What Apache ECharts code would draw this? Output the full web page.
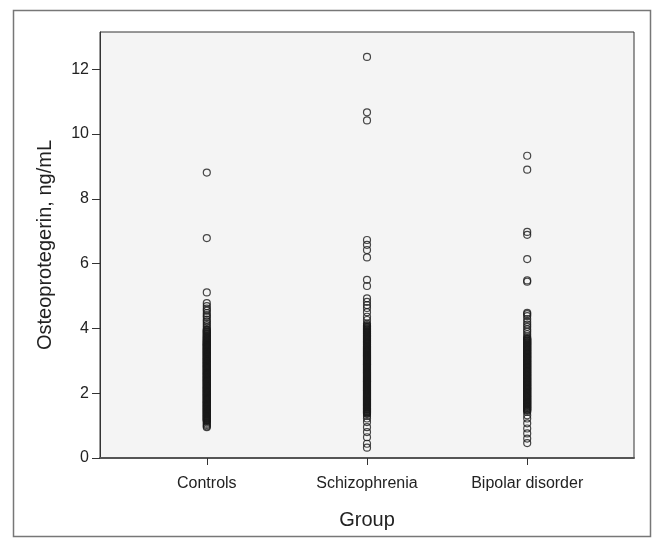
<!DOCTYPE html>
<html>
<head>
<meta charset="utf-8">
<script src="https://cdn.jsdelivr.net/npm/echarts@6/dist/echarts.min.js"></script>
<style>
  html, body { margin: 0; padding: 0; background: #fff; }
  #chart { width: 656px; height: 544px; }
</style>
</head>
<body>
<div id="chart"></div>
<script>
// groups on the x axis
var categories = ['Controls', 'Schizophrenia', 'Bipolar disorder'];
var yTicks = [0, 2, 4, 6, 8, 10, 12];

// osteoprotegerin values (ng/mL)
var controls = [
    0.95, 0.98, 1.02, 1.06, 1.1,
    1.14, 1.17, 1.19, 1.22, 1.25, 1.27, 1.3, 1.33, 1.35, 1.38, 1.41, 1.44, 1.46, 1.49, 1.52,
    1.55, 1.57, 1.6, 1.63, 1.66, 1.68, 1.71, 1.74, 1.77, 1.79, 1.82, 1.85, 1.88, 1.9, 1.93,
    1.96, 1.99, 2.01, 2.04, 2.07, 2.1, 2.12, 2.15, 2.18, 2.21, 2.23, 2.26, 2.29, 2.32, 2.34,
    2.37, 2.4, 2.43, 2.45, 2.48, 2.51, 2.54, 2.56, 2.59, 2.62, 2.65, 2.67, 2.7, 2.73, 2.76,
    2.78, 2.81, 2.84, 2.87, 2.89, 2.92, 2.95, 2.98, 3.0, 3.03, 3.06, 3.09, 3.11, 3.14, 3.17,
    3.2, 3.22, 3.25, 3.28, 3.31, 3.33, 3.36, 3.39, 3.42, 3.44, 3.47, 3.5, 3.53, 3.56, 3.6,
    3.63, 3.67, 3.71, 3.75, 3.8, 3.84, 3.89, 3.93, 3.98,
    1.155, 1.205, 1.235, 1.285, 1.315, 1.365, 1.395, 1.425, 1.475, 1.505, 1.535, 1.585,
    1.615, 1.645, 1.695, 1.725, 1.755, 1.805, 1.835, 1.865, 1.915, 1.945, 1.975, 2.025,
    2.055, 2.085, 2.135, 2.165, 2.195, 2.245, 2.275, 2.305, 2.355, 2.385, 2.415, 2.465,
    2.495, 2.525, 2.575, 2.605, 2.635, 2.685, 2.715, 2.745, 2.795, 2.825, 2.855, 2.905,
    2.935, 2.965, 3.015, 3.045, 3.075, 3.125, 3.155, 3.185, 3.235, 3.265, 3.295, 3.345,
    3.375, 3.405, 3.455, 3.485, 3.515, 3.545, 3.58, 3.615, 3.65, 3.69, 3.73, 3.77, 3.82,
    3.865, 3.91, 3.955,
    4.04, 4.1, 4.16, 4.22, 4.27, 4.35, 4.4, 4.47, 4.55, 4.61, 4.69, 4.78, 5.11, 6.79, 8.81
];
var schizophrenia = [
    0.32, 0.44, 0.64, 0.8, 0.95, 1.11, 1.22, 1.3,
    1.36, 1.4, 1.43, 1.46, 1.5, 1.53, 1.56, 1.6, 1.63, 1.66, 1.69, 1.72, 1.75, 1.78, 1.81,
    1.84, 1.87, 1.9, 1.93, 1.96, 1.99, 2.02, 2.05, 2.08, 2.11, 2.14, 2.17, 2.2, 2.23, 2.26,
    2.29, 2.32, 2.35, 2.38, 2.41, 2.44, 2.47, 2.5, 2.53, 2.56, 2.59, 2.62, 2.65, 2.68, 2.71,
    2.74, 2.77, 2.8, 2.83, 2.86, 2.89, 2.92, 2.95, 2.98, 3.01, 3.04, 3.07, 3.1, 3.13, 3.16,
    3.19, 3.22, 3.25, 3.28, 3.31, 3.34, 3.37, 3.4, 3.44, 3.48, 3.52, 3.56, 3.6, 3.64, 3.68,
    3.72, 3.76, 3.8, 3.84, 3.88, 3.92, 3.96, 4.0, 4.05, 4.1,
    1.38, 1.415, 1.445, 1.48, 1.515, 1.545, 1.58, 1.615, 1.645, 1.675, 1.705, 1.735, 1.765,
    1.795, 1.825, 1.855, 1.885, 1.915, 1.945, 1.975, 2.005, 2.035, 2.065, 2.095, 2.125,
    2.155, 2.185, 2.215, 2.245, 2.275, 2.305, 2.335, 2.365, 2.395, 2.425, 2.455, 2.485,
    2.515, 2.545, 2.575, 2.605, 2.635, 2.665, 2.695, 2.725, 2.755, 2.785, 2.815, 2.845,
    2.875, 2.905, 2.935, 2.965, 2.995, 3.025, 3.055, 3.085, 3.115, 3.145, 3.175, 3.205,
    3.235, 3.265, 3.295, 3.325, 3.355, 3.385, 3.42, 3.46, 3.5, 3.54, 3.58, 3.62, 3.66, 3.7,
    3.74, 3.78, 3.82, 3.86, 3.9, 3.94, 3.98, 4.025, 4.075,
    4.15, 4.26, 4.36, 4.5, 4.63, 4.72, 4.82, 4.93, 5.31, 5.5, 6.19, 6.42, 6.58, 6.73,
    10.42, 10.67, 12.38
];
var bipolar = [
    0.46, 0.6, 0.76, 0.91, 1.07, 1.22, 1.32, 1.42,
    1.46, 1.5, 1.54, 1.58, 1.62, 1.66, 1.7, 1.74, 1.78, 1.82, 1.86, 1.9, 1.94, 1.98, 2.02,
    2.06, 2.1, 2.14, 2.18, 2.22, 2.26, 2.3, 2.34, 2.38, 2.42, 2.46, 2.5, 2.54, 2.58, 2.62,
    2.66, 2.7, 2.74, 2.78, 2.82, 2.86, 2.9, 2.94, 2.98, 3.02, 3.06, 3.1, 3.14, 3.18, 3.22,
    3.26, 3.3, 3.34, 3.38, 3.42, 3.46, 3.5, 3.54, 3.58, 3.62, 3.66, 3.7,
    1.48, 1.52, 1.56, 1.6, 1.64, 1.68, 1.72, 1.76, 1.8, 1.84, 1.88, 1.92, 1.96, 2.0, 2.04,
    2.08, 2.12, 2.16, 2.2, 2.24, 2.28, 2.32, 2.36, 2.4, 2.44, 2.48, 2.52, 2.56, 2.6, 2.64,
    2.68, 2.72, 2.76, 2.8, 2.84, 2.88, 2.92, 2.96, 3.0, 3.04, 3.08, 3.12, 3.16, 3.2, 3.24,
    3.28, 3.32, 3.36, 3.4, 3.44, 3.48, 3.52, 3.56, 3.6, 3.64, 3.68,
    3.75, 3.82, 3.9, 3.97, 4.05, 4.12, 4.2, 4.29, 4.38, 4.44, 4.48,
    5.44, 5.48, 6.14, 6.89, 6.98, 8.9, 9.33
];
var groups = [controls, schizophrenia, bipolar];

// x position of each group on a 0..10 value axis (groups at 2, 5, 8)
function groupX(i) { return 2 + i * 3; }
var xTicks = categories.map(function(c, i){ return groupX(i); });

var series = groups.map(function(vals, i){
    return {
        type: 'scatter',
        name: categories[i],
        symbol: 'circle',
        symbolSize: 7,
        silent: true,
        itemStyle: {
            color: 'rgba(0,0,0,0)',
            borderColor: '#1a1a1a',
            borderWidth: 1.2
        },
        data: vals.map(function(v){ return [groupX(i), v]; })
    };
});

var font = 'Liberation Sans, Arial, sans-serif';

var option = {
    animation: false,
    backgroundColor: '#fff',
    graphic: [{
        type: 'rect',
        shape: { x: 13.5, y: 10.5, width: 637, height: 526 },
        style: { fill: 'none', stroke: '#777', lineWidth: 1.5 },
        silent: true
    }],
    grid: {
        left: 100, top: 32, right: 22, bottom: 86,
        show: true,
        backgroundColor: '#f4f4f4',
        borderColor: '#333',
        borderWidth: 1
    },
    xAxis: {
        type: 'value',
        min: 0, max: 10,
        name: 'Group',
        nameLocation: 'middle',
        nameGap: 52,
        nameTextStyle: { fontFamily: font, fontSize: 20, color: '#222' },
        splitLine: { show: false },
        axisLine: { onZero: false, lineStyle: { color: '#555', width: 2 } },
        axisTick: { customValues: xTicks, length: 7, lineStyle: { color: '#333' } },
        axisLabel: {
            customValues: xTicks,
            margin: 18,
            fontFamily: font, fontSize: 16, color: '#222',
            formatter: function(v){ return categories[(v - 2) / 3] || ''; }
        }
    },
    yAxis: {
        type: 'value',
        min: 0, max: 13.15,
        interval: 2,
        name: 'Osteoprotegerin, ng/mL',
        nameLocation: 'middle',
        nameGap: 45,
        nameTextStyle: { fontFamily: font, fontSize: 20, color: '#222' },
        splitLine: { show: false },
        axisLine: { show: true, lineStyle: { color: '#333', width: 1 } },
        axisTick: { customValues: yTicks, length: 8, lineStyle: { color: '#333' } },
        axisLabel: {
            customValues: yTicks,
            margin: 11,
            fontFamily: font, fontSize: 16, color: '#222'
        }
    },
    series: series
};

echarts.init(document.getElementById('chart')).setOption(option);
</script>
</body>
</html>
